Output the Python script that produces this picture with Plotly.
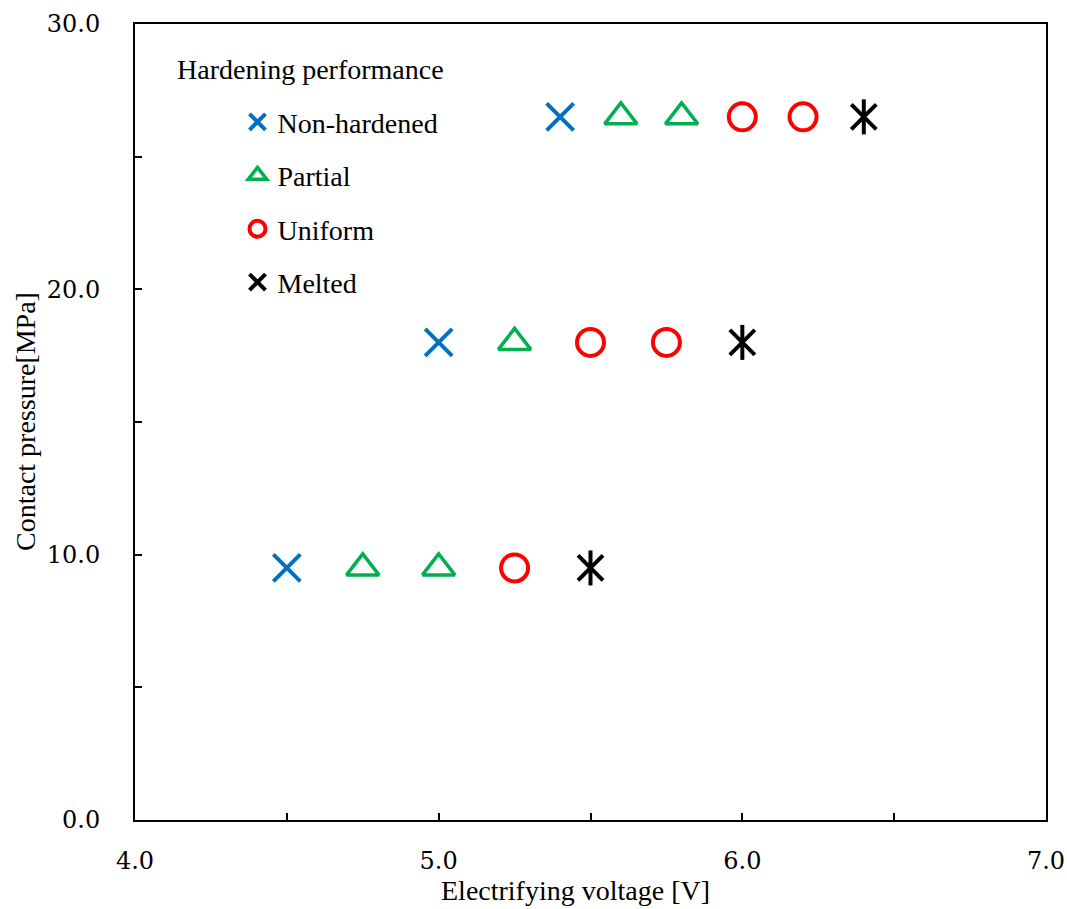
import plotly.graph_objects as go

# Contact pressure levels [MPa] and the voltages tested at each level [V]
pressure_levels = [9.5, 18.0, 26.5]

non_hardened_v = [4.5, 5.0, 5.4]
non_hardened_p = [9.5, 18.0, 26.5]

partial_v = [4.75, 5.0, 5.25, 5.6, 5.8]
partial_p = [9.5, 9.5, 18.0, 26.5, 26.5]

uniform_v = [5.25, 5.5, 5.75, 6.0, 6.2]
uniform_p = [9.5, 18.0, 18.0, 26.5, 26.5]

melted_v = [5.5, 6.0, 6.4]
melted_p = [9.5, 18.0, 26.5]

x_tick_vals = [4.0, 5.0, 6.0, 7.0]
x_tick_text = ["4.0", "5.0", "6.0", "7.0"]
y_tick_vals = [0, 10, 20, 30]
y_tick_text = ["0.0", "10.0", "20.0", "30.0"]

BLUE = "#0070C0"
GREEN = "#00B050"
RED = "#FF0000"
BLACK = "#000000"

TEXT_FONT = "Liberation Serif"
TICK_FONT = "DejaVu Serif"

fig = go.Figure()

fig.add_trace(go.Scatter(
    x=non_hardened_v, y=non_hardened_p, mode="markers", name="Non-hardened",
    legendgroup="a",
    marker=dict(symbol="x-thin-open", size=27, color=BLUE,
                line=dict(color=BLUE, width=4)),
))
fig.add_trace(go.Scatter(
    x=partial_v, y=partial_p, mode="markers", name="Partial",
    legendgroup="b",
    marker=dict(symbol="triangle-up-open", size=28, color=GREEN,
                line=dict(color=GREEN, width=3.5)),
))
fig.add_trace(go.Scatter(
    x=uniform_v, y=uniform_p, mode="markers", name="Uniform",
    legendgroup="c",
    marker=dict(symbol="circle-open", size=27, color=RED,
                line=dict(color=RED, width=4)),
))
# Melted: an X with a vertical stroke through it
fig.add_trace(go.Scatter(
    x=melted_v, y=melted_p, mode="markers", name="Melted",
    legendgroup="d",
    marker=dict(symbol="x-thin-open", size=25, color=BLACK,
                line=dict(color=BLACK, width=4)),
))
fig.add_trace(go.Scatter(
    x=melted_v, y=melted_p, mode="markers", name="Melted",
    legendgroup="d", showlegend=False,
    marker=dict(symbol="line-ns-open", size=25, color=BLACK,
                line=dict(color=BLACK, width=4)),
))

axis_common = dict(
    showgrid=False, zeroline=False, automargin=False,
    showline=True, linecolor=BLACK, linewidth=2, mirror=True,
    ticks="inside", ticklen=7, tickwidth=2, tickcolor=BLACK,
    tickfont=dict(family=TICK_FONT, size=24, color=BLACK),
)

fig.update_xaxes(
    range=[4.0, 7.0], tickmode="array", tickvals=x_tick_vals, ticktext=x_tick_text,
    minor=dict(dtick=0.5, ticks="inside", ticklen=7, tickwidth=2, tickcolor=BLACK),
    ticklabelstandoff=18,
    **axis_common,
)
fig.update_yaxes(
    range=[0, 30], tickmode="array", tickvals=y_tick_vals, ticktext=y_tick_text,
    minor=dict(dtick=5, ticks="inside", ticklen=7, tickwidth=2, tickcolor=BLACK),
    ticklabelstandoff=28,
    **axis_common,
)

fig.update_layout(
    width=1067, height=909,
    margin=dict(l=135, r=21, t=24, b=89, autoexpand=False),
    paper_bgcolor="white", plot_bgcolor="white",
    font=dict(family=TEXT_FONT, color=BLACK),
    showlegend=True,
    legend=dict(
        x=0.1125, y=0.908, xanchor="left", yanchor="top",
        traceorder="grouped", tracegroupgap=14,
        font=dict(family=TEXT_FONT, size=28, color=BLACK),
        bgcolor="rgba(0,0,0,0)", borderwidth=0,
        itemwidth=30,
    ),
    annotations=[
        dict(text="Hardening performance", xref="paper", yref="paper",
             x=(175 - 135) / 911, y=(820 - 69) / 796, xanchor="left", yanchor="middle",
             showarrow=False, font=dict(family=TEXT_FONT, size=28, color=BLACK)),
        dict(text="Electrifying voltage [V]", xref="paper", yref="paper",
             x=(575 - 135) / 911, y=-(890 - 820) / 796, xanchor="center", yanchor="middle",
             showarrow=False, font=dict(family=TEXT_FONT, size=28, color=BLACK)),
        dict(text="Contact pressure[MPa]", xref="paper", yref="paper",
             x=-(135 - 25) / 911, y=0.5, xanchor="center", yanchor="middle",
             textangle=-90,
             showarrow=False, font=dict(family=TEXT_FONT, size=28, color=BLACK)),
    ],
)

fig.write_html("out.html")
